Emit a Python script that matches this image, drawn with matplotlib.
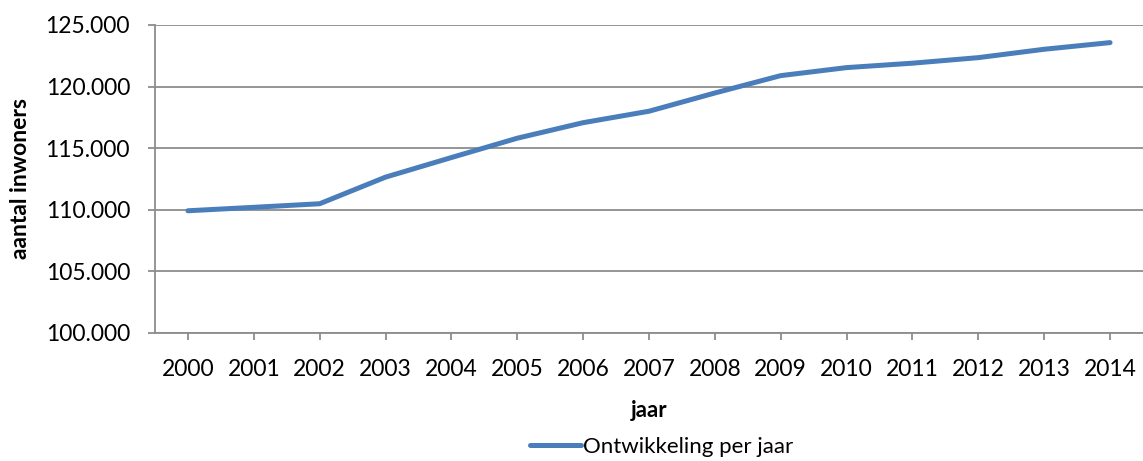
import matplotlib.pyplot as plt

# Data
jaren = ['2000', '2001', '2002', '2003', '2004', '2005', '2006', '2007',
         '2008', '2009', '2010', '2011', '2012', '2013', '2014']
inwoners = [109920, 110200, 110490, 112650, 114240, 115810, 117070, 118000,
            119480, 120890, 121540, 121900, 122350, 123030, 123570]
yticks = [100000, 105000, 110000, 115000, 120000, 125000]

plt.rcParams['font.family'] = ['Lato', 'DejaVu Sans']

fig = plt.figure(figsize=(11.43, 4.61), dpi=100)
ax = fig.add_axes([0.1356, 0.2777, 0.8644, 0.6681])

grid_col = '#8c8c8c'
ax.plot(range(len(jaren)), inwoners, color='#4a7ebb', linewidth=3.6,
        solid_capstyle='round', label='Ontwikkeling per jaar', zorder=3)

ax.set_xlim(-0.5, len(jaren) - 0.5)
ax.set_ylim(100000, 125000)
ax.set_xticks(range(len(jaren)))
ax.set_xticklabels(jaren)
ax.set_yticks(yticks)
ax.set_yticklabels([f"{v:,}".replace(',', '.') for v in yticks])

ax.yaxis.grid(True, color=grid_col, linewidth=1.3)
ax.set_axisbelow(True)
for s in ['top', 'right']:
    ax.spines[s].set_visible(False)
for s in ['left', 'bottom']:
    ax.spines[s].set_color(grid_col)
    ax.spines[s].set_linewidth(1.3)

ax.tick_params(axis='both', colors=grid_col, labelcolor='black', labelsize=16.5,
               length=5, width=1.3)
ax.tick_params(axis='x', pad=14)
ax.tick_params(axis='y', pad=13)

ax.set_xlabel('jaar', fontsize=16, fontweight='bold', labelpad=14)
ax.set_ylabel('aantal inwoners', fontsize=16.5, fontweight='bold')
ax.yaxis.set_label_coords(-0.126, 0.5)

fig.legend(loc='center', bbox_to_anchor=(0.579, 0.03), frameon=False,
           fontsize=16, handlelength=2.3, handletextpad=0.1)

fig.savefig('out.png', dpi=100)
